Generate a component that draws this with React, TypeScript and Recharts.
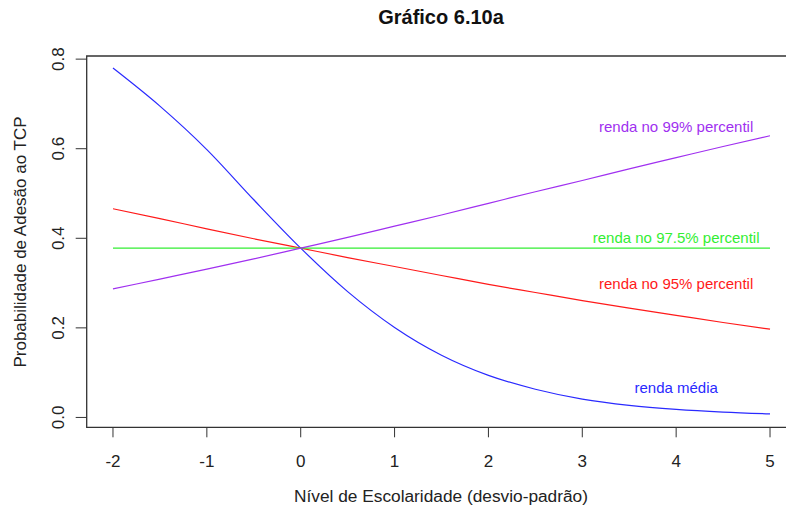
import { LineChart, Line, XAxis, YAxis, ReferenceArea, ReferenceDot } from "recharts";

const escolaridade = [-2, -1.5, -1, -0.5, 0, 0.5, 1, 1.5, 2, 2.5, 3, 3.5, 4, 4.5, 5];
const rendaMedia = [0.78, 0.695, 0.598, 0.486, 0.378, 0.281, 0.201, 0.139, 0.094, 0.063, 0.041, 0.027, 0.018, 0.012, 0.008];
const renda95 = [0.466, 0.444, 0.421, 0.399, 0.378, 0.357, 0.337, 0.317, 0.297, 0.279, 0.261, 0.244, 0.228, 0.212, 0.197];
const renda975 = [0.378, 0.378, 0.378, 0.378, 0.378, 0.378, 0.378, 0.378, 0.378, 0.378, 0.378, 0.378, 0.378, 0.378, 0.378];
const renda99 = [0.287, 0.309, 0.331, 0.354, 0.378, 0.402, 0.427, 0.452, 0.478, 0.504, 0.529, 0.555, 0.58, 0.605, 0.629];

const xTicks = [-2, -1, 0, 1, 2, 3, 4, 5];
const yTicks = [0, 0.2, 0.4, 0.6, 0.8];

const series = [
  { key: "media", name: "renda média", color: "#2a2aff", labelY: 0.066 },
  { key: "p95", name: "renda no 95% percentil", color: "#ff1a1a", labelY: 0.298 },
  { key: "p975", name: "renda no 97.5% percentil", color: "#33ee33", labelY: 0.401 },
  { key: "p99", name: "renda no 99% percentil", color: "#a030f0", labelY: 0.649 },
];

const data = escolaridade.map((x, i) => ({
  x,
  media: rendaMedia[i],
  p95: renda95[i],
  p975: renda975[i],
  p99: renda99[i],
}));

const FONT = '"Liberation Sans", Arial, sans-serif';
const X_DOMAIN: [number, number] = [-2.28, 5.28];
const Y_DOMAIN: [number, number] = [-0.022, 0.807];

// plot box: left 86.7, top 56, right 796.3, bottom 427.3
const X_AXIS_H = 40;
const Y_AXIS_W = 40;

const XTick = (props: any) => {
  const { x, y, payload } = props;
  return (
    <text x={x} y={y + 24} textAnchor="middle" dominantBaseline="central" fontSize={17} fill="#222" fontFamily={FONT}>
      {payload.value}
    </text>
  );
};

const YTick = (props: any) => {
  const { x, y, payload } = props;
  const tx = x - 17;
  return (
    <text x={tx} y={y} textAnchor="middle" dominantBaseline="central" fontSize={17} fill="#222" fontFamily={FONT} transform={`rotate(-90 ${tx} ${y})`}>
      {Number(payload.value).toFixed(1)}
    </text>
  );
};

export default function App() {
  return (
    <div style={{ position: "absolute", left: 0, top: 0, width: 786, height: 510, overflow: "hidden", background: "#fff", fontFamily: FONT }}>
      <div style={{ position: "absolute", left: 0, width: 882, top: 6, textAlign: "center", fontSize: 20, fontWeight: "bold", color: "#111" }}>
        Gráfico 6.10a
      </div>
      <div style={{ position: "absolute", left: 0, width: 882, top: 486, textAlign: "center", fontSize: 17.3, color: "#222" }}>
        Nível de Escolaridade (desvio-padrão)
      </div>
      <div style={{ position: "absolute", left: 21, top: 242, width: 0, height: 0 }}>
        <div style={{ position: "absolute", transform: "translate(-50%, -50%) rotate(-90deg)", whiteSpace: "nowrap", fontSize: 17, color: "#222" }}>
          Probabilidade de Adesão ao TCP
        </div>
      </div>
      <LineChart
        width={810}
        height={510}
        data={data}
        margin={{ top: 56, left: 86.7 - Y_AXIS_W, right: 13.7, bottom: 82.7 - X_AXIS_H }}
      >
        <XAxis
          dataKey="x"
          type="number"
          domain={X_DOMAIN}
          allowDataOverflow
          ticks={xTicks}
          interval={0}
          height={X_AXIS_H}
          axisLine={false}
          tickSize={10}
          tickMargin={0}
          tickLine={{ stroke: "#333" }}
          tick={<XTick />}
        />
        <YAxis
          type="number"
          domain={Y_DOMAIN}
          allowDataOverflow
          ticks={yTicks}
          interval={0}
          width={Y_AXIS_W}
          axisLine={false}
          tickSize={11}
          tickMargin={0}
          tickLine={{ stroke: "#333" }}
          tick={<YTick />}
        />
        <ReferenceArea x1={X_DOMAIN[0]} x2={X_DOMAIN[1]} y1={Y_DOMAIN[0]} y2={Y_DOMAIN[1]} fill="none" stroke="#333" strokeWidth={1.3} />
        {series.map((s) => (
          <Line
            key={s.key}
            dataKey={s.key}
            type="monotone"
            stroke={s.color}
            strokeWidth={1.2}
            dot={false}
            isAnimationActive={false}
          />
        ))}
        {series.map((s) => (
          <ReferenceDot
            key={s.key + "-label"}
            x={4}
            y={s.labelY}
            r={0}
            fill="none"
            stroke="none"
            label={{ value: s.name, position: "center", fill: s.color, fontSize: 15, fontFamily: FONT }}
          />
        ))}
      </LineChart>
    </div>
  );
}
